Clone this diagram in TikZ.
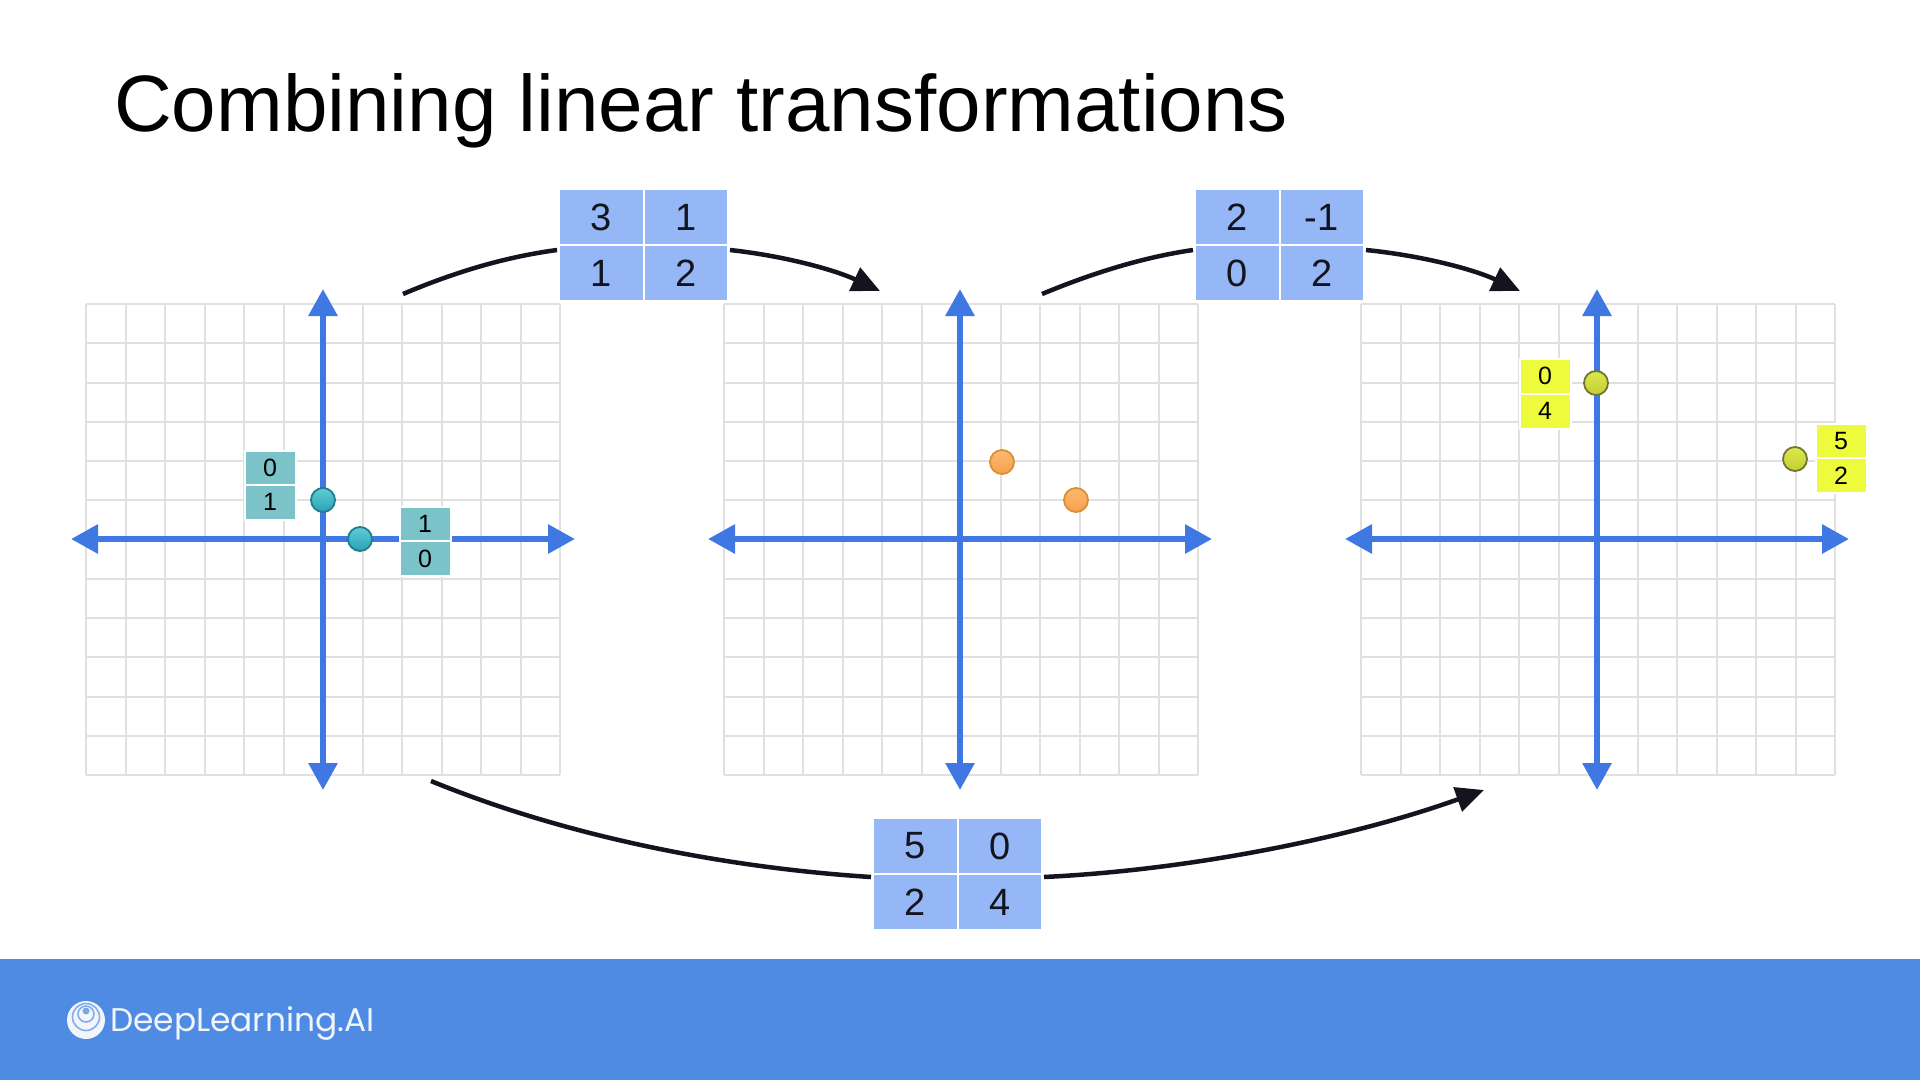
\documentclass[tikz,border=0pt]{standalone}
\usepackage{fontspec}
\setmainfont{Liberation Sans}
\newfontfamily\logofont{Poppins}
\usetikzlibrary{arrows.meta}
\definecolor{axisblue}{HTML}{3F78E3}
\definecolor{matblue}{HTML}{95B7F5}
\definecolor{footblue}{HTML}{4F8AE3}
\definecolor{gridgray}{HTML}{E0E0E0}
\definecolor{tealcell}{HTML}{7CC3C9}
\definecolor{yellowcell}{HTML}{EEFB3C}
\definecolor{inkdark}{HTML}{14141E}
\definecolor{TealTop}{HTML}{62CCD8}
\definecolor{TealBot}{HTML}{27A2B4}
\definecolor{TealEdge}{HTML}{1E7F8C}
\definecolor{OrangeTop}{HTML}{FBBB72}
\definecolor{OrangeBot}{HTML}{F5A04A}
\definecolor{OrangeEdge}{HTML}{DC8E34}
\definecolor{YellowTop}{HTML}{DDE84A}
\definecolor{YellowBot}{HTML}{C2CE34}
\definecolor{YellowEdge}{HTML}{6F7533}
\tikzset{
  x=1pt,y=-1pt,
  gridline/.style={draw=gridgray,line width=1.8pt},
  axisline/.style={draw=axisblue,line width=6pt,{Triangle[length=27pt,width=28pt]}-{Triangle[length=27pt,width=28pt]}},
  flow/.style={draw=inkdark,line width=4.5pt},
  flowarrow/.style={flow,-{Triangle[length=28pt,width=25pt]}},
  matcell/.style={fill=matblue,draw=white,line width=2pt,minimum width=84.5pt,minimum height=56pt,inner sep=0pt,text=inkdark,font=\fontsize{38}{38}\selectfont,anchor=center},
  veccell/.style={draw=white,line width=2pt,minimum width=51pt,minimum height=35pt,inner sep=0pt,text=black,font=\fontsize{25}{25}\selectfont,anchor=center},
  tealvec/.style={veccell,fill=tealcell},
  yellowvec/.style={veccell,fill=yellowcell},
  dot/.style={circle,minimum size=24pt,inner sep=0pt,line width=1.8pt},
  tealdot/.style={dot,draw=TealEdge,top color=TealTop,bottom color=TealBot},
  orangedot/.style={dot,draw=OrangeEdge,top color=OrangeTop,bottom color=OrangeBot},
  yellowdot/.style={dot,draw=YellowEdge,top color=YellowTop,bottom color=YellowBot},
}
% #1 axis centre x, #2 grid centre x, #3 name
\newcommand{\gridplot}[3]{%
  \foreach \i in {0,...,12}{
    \draw[gridline] ({round(#2-237+\i*39.5)},304) -- ({round(#2-237+\i*39.5)},775);
    \draw[gridline] ({#2-237},{round(304+\i*39.25)}) -- ({#2+237},{round(304+\i*39.25)});
  }
  \coordinate (#3w) at ({#1-252},539);
  \coordinate (#3e) at ({#1+252},539);
  \coordinate (#3n) at (#1,289);
  \coordinate (#3s) at (#1,790);
  \draw[axisline] (#3w) -- (#3e);
  \draw[axisline] (#3n) -- (#3s);
}
\newcommand{\matrixbox}[7]{%
  \node[matcell] (#1a) at ({#2-42.25},{#3-28}) {#4};
  \node[matcell] (#1b) at ({#2+42.25},{#3-28}) {#5};
  \node[matcell] (#1c) at ({#2-42.25},{#3+28}) {#6};
  \node[matcell] (#1d) at ({#2+42.25},{#3+28}) {#7};
}
\begin{document}
\begin{tikzpicture}
\useasboundingbox (0,0) rectangle (1920,1080);
\fill[white] (0,0) rectangle (1920,1080);
\fill[footblue] (0,959) rectangle (1920,1080);
\node[anchor=base west,inner sep=0pt,font=\fontsize{80}{80}\selectfont] (title) at (114,131) {Combining linear transformations};

\gridplot{323}{323}{ga}
\gridplot{960}{961}{gb}
\gridplot{1597}{1598}{gc}

% vectors, first plane
\node[tealvec] (t1) at (270,468) {0};
\node[tealvec] (t2) at (270,502) {1};
\node[tealvec] (t3) at (425,524) {1};
\node[tealvec] (t4) at (425,558.5) {0};
\node[tealdot] (p1) at (323,500) {};
\node[tealdot] (p2) at (360,539) {};
% second plane
\node[orangedot] (p3) at (1002,462) {};
\node[orangedot] (p4) at (1076,500) {};
% third plane
\node[yellowvec] (y1) at (1545,376) {0};
\node[yellowvec] (y2) at (1545,411) {4};
\node[yellowvec] (y3) at (1841,441) {5};
\node[yellowvec] (y4) at (1841,475.5) {2};
\node[yellowdot] (p5) at (1596,383) {};
\node[yellowdot] (p6) at (1795,459) {};

% matrices
\matrixbox{ma}{643.5}{245}{3}{1}{1}{2}
\matrixbox{mb}{1279.5}{245}{2}{-1}{0}{2}
\matrixbox{mc}{957.5}{874}{5}{0}{2}{4}

% connectors
\coordinate (a1s) at (403,294);
\coordinate (a1e) at (880,291);
\coordinate (a2s) at (1042,294);
\coordinate (a2e) at (1520,291);
\coordinate (a3s) at (431,781);
\coordinate (a3e) at (1484,790);
\draw[flow] (a1s) .. controls (455,272) and (505,257) .. ([xshift=-1pt,yshift=-6pt]mac.north west);
\draw[flowarrow] ([xshift=1pt,yshift=-6pt]mad.north east) .. controls (785,256) and (835,270) .. (a1e);
\draw[flow] (a2s) .. controls (1095,272) and (1145,257) .. ([xshift=-1pt,yshift=-6pt]mbc.north west);
\draw[flowarrow] ([xshift=1pt,yshift=-6pt]mbd.north east) .. controls (1425,256) and (1475,270) .. (a2e);
\draw[flow] (a3s) .. controls (570,838) and (730,868) .. ([xshift=-1pt,yshift=-2pt]mca.south west);
\draw[flowarrow] ([xshift=1pt,yshift=-2pt]mcb.south east) .. controls (1190,870) and (1350,838) .. (a3e);

% footer logo
\fill[white!92!footblue] (86,1020) circle (19);
\draw[footblue!70!white,line width=1.6pt] (86,1017) circle (13.5);
\draw[footblue!70!white,line width=1.6pt] (86,1014) circle (8);
\fill[footblue!75!white] (86,1011) circle (3.5);
\node[anchor=base west,inner sep=0pt,text=white!92!footblue,font=\logofont\fontsize{32.8}{33}\selectfont] (brand) at (110,1031) {DeepLearning.AI};
\end{tikzpicture}
\end{document}
